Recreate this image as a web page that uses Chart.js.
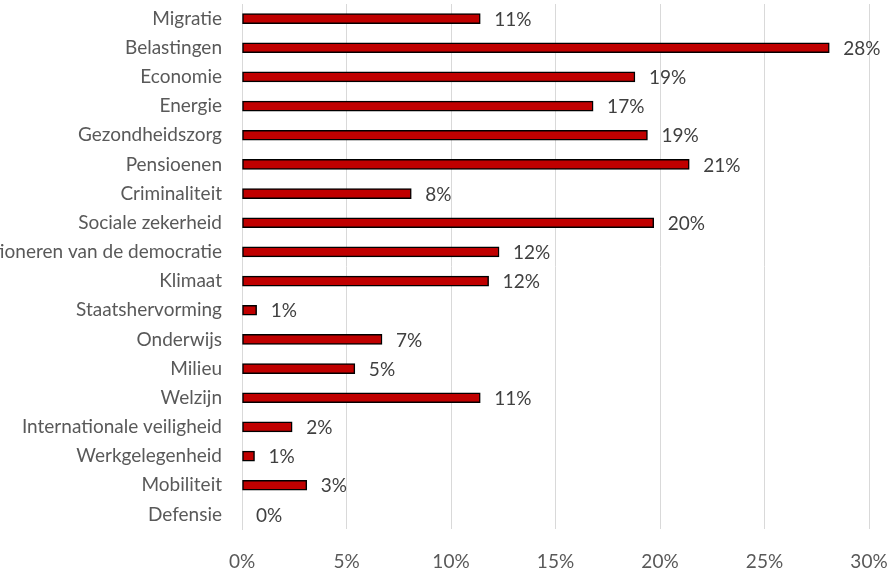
<!DOCTYPE html>
<html>
<head>
<meta charset="utf-8">
<script src="https://cdn.jsdelivr.net/npm/chart.js@4"></script>
<style>
  html, body { margin: 0; padding: 0; background: #fff; }
  #wrap { width: 894px; height: 571px; }
</style>
</head>
<body>
<div id="wrap"><canvas id="chart" width="894" height="571"></canvas></div>
<script>
// categorieën (van boven naar onder)
const categories = [
    'Migratie', 'Belastingen', 'Economie', 'Energie', 'Gezondheidszorg',
    'Pensioenen', 'Criminaliteit', 'Sociale zekerheid', 'Functioneren van de democratie',
    'Klimaat', 'Staatshervorming', 'Onderwijs', 'Milieu', 'Welzijn',
    'Internationale veiligheid', 'Werkgelegenheid', 'Mobiliteit', 'Defensie'
];
// aandeel in procent
const shares = [
    11.4, 28.1, 18.8, 16.8, 19.4,
    21.4, 8.1, 19.7, 12.3,
    11.8, 0.7, 6.7, 5.4, 11.4,
    2.4, 0.6, 3.1, 0
];
const xTicks = [0, 5, 10, 15, 20, 25, 30];

const FONT = 'Lato, "Open Sans", sans-serif';
const FSIZE = 19;

// labels rechts van de balken
const barLabels = {
    id: 'barLabels',
    afterDatasetsDraw(chart) {
        const ctx = chart.ctx;
        const meta = chart.getDatasetMeta(0);
        ctx.save();
        ctx.font = FSIZE + 'px ' + FONT;
        ctx.fillStyle = '#404040';
        ctx.textAlign = 'left';
        ctx.textBaseline = 'middle';
        meta.data.forEach((bar, i) => {
            ctx.fillText(Math.round(shares[i]) + '%', bar.x + 14, bar.y + 1);
        });
        ctx.restore();
    }
};

const ctx = document.getElementById('chart').getContext('2d');
const chart = new Chart(ctx, {
    type: 'bar',
    data: {
        labels: categories,
        datasets: [{
            data: shares,
            backgroundColor: '#c00000',
            borderColor: '#000000',
            borderWidth: 1.5,
            borderSkipped: false,
            barThickness: 10
        }]
    },
    options: {
        indexAxis: 'y',
        responsive: false,
        animation: false,
        layout: { padding: { top: 4, right: 25, bottom: 0, left: 0 } },
        plugins: {
            legend: { display: false },
            tooltip: { enabled: false }
        },
        scales: {
            x: {
                min: 0,
                max: 30,
                afterBuildTicks: (scale) => { scale.ticks = xTicks.map(v => ({ value: v })); },
                afterFit: (scale) => {
                    scale.height = 42;
                    scale.paddingLeft = 0;
                    scale.paddingRight = 0;
                },
                grid: { color: '#d9d9d9', lineWidth: 1, drawTicks: false },
                border: { display: false },
                ticks: {
                    color: '#595959',
                    font: { family: FONT, size: FSIZE },
                    padding: 21,
                    maxRotation: 0,
                    callback: (v) => v + '%'
                }
            },
            y: {
                afterFit: (scale) => {
                    scale.width = 242;
                    scale.paddingTop = 0;
                    scale.paddingBottom = 0;
                },
                grid: { display: false, drawTicks: false },
                border: { display: true, color: '#d9d9d9', width: 1 },
                ticks: {
                    color: '#595959',
                    font: { family: FONT, size: FSIZE },
                    padding: 20,
                    autoSkip: false
                }
            }
        }
    },
    plugins: [barLabels]
});
</script>
</body>
</html>
